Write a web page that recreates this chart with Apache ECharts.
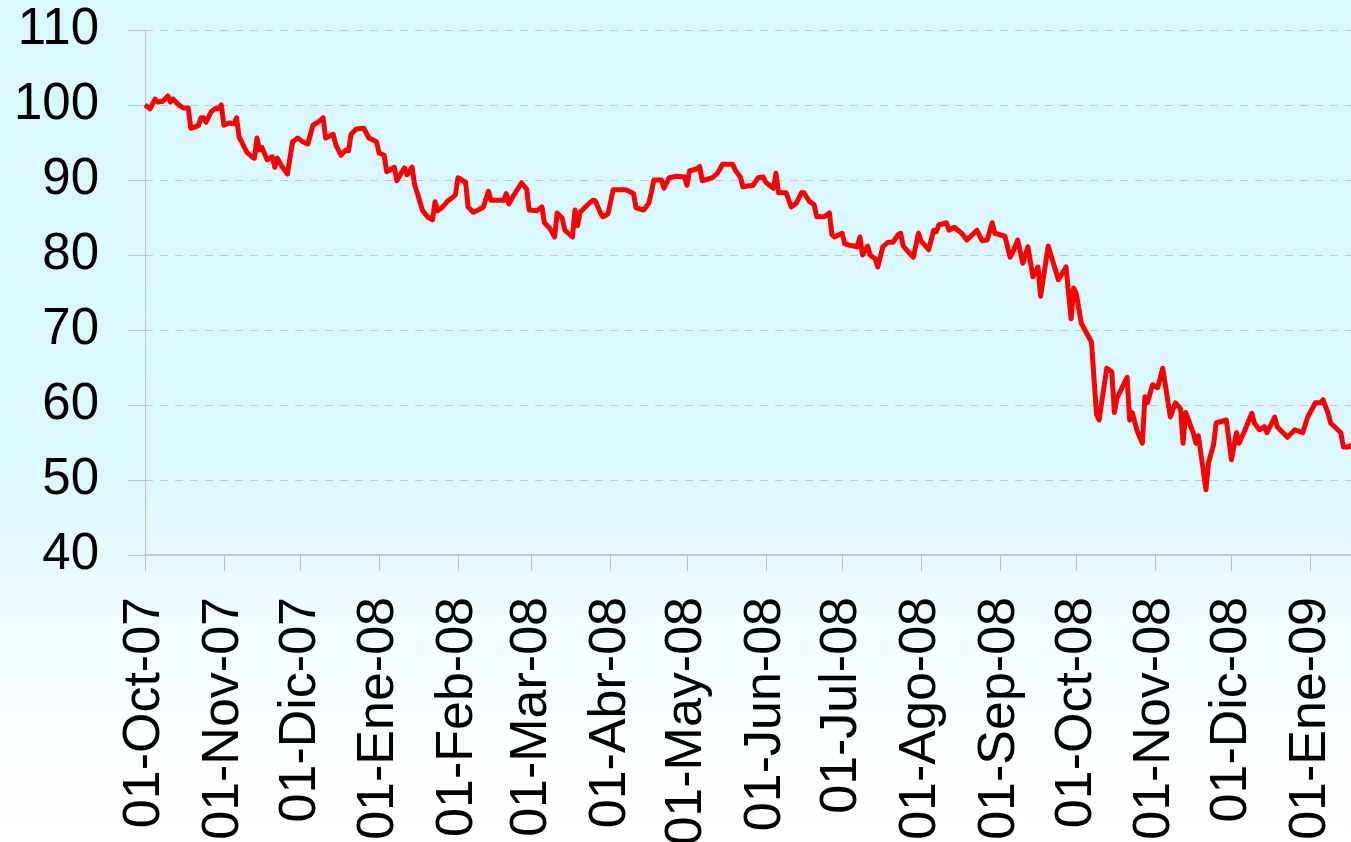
<!DOCTYPE html>
<html>
<head>
<meta charset="utf-8">
<script src="https://cdn.jsdelivr.net/npm/echarts@6/dist/echarts.min.js"></script>
<style>
  html, body { margin: 0; padding: 0; }
  body {
    background: linear-gradient(to bottom, #d9f8fe 0%, #daf8fe 54%, #e6f9fe 66%, #f2fcff 76%, #fbfeff 88%, #ffffff 100%);
  }
  #chart { width: 1351px; height: 842px; }
</style>
</head>
<body>
<div id="chart"></div>
<script>
// fechas y valores
const dates = [
  "2007-10-01", "2007-10-03", "2007-10-05", "2007-10-06", "2007-10-08", "2007-10-10", "2007-10-11", "2007-10-12",
  "2007-10-14", "2007-10-16", "2007-10-18", "2007-10-19", "2007-10-21", "2007-10-22", "2007-10-23", "2007-10-24",
  "2007-10-25", "2007-10-27", "2007-10-29", "2007-10-30", "2007-10-31",
  "2007-11-01", "2007-11-03", "2007-11-05", "2007-11-06", "2007-11-07", "2007-11-08", "2007-11-10", "2007-11-12",
  "2007-11-13", "2007-11-14", "2007-11-15", "2007-11-16", "2007-11-18", "2007-11-20", "2007-11-21", "2007-11-22",
  "2007-11-24", "2007-11-26", "2007-11-28", "2007-11-30",
  "2007-12-02", "2007-12-04", "2007-12-06", "2007-12-08", "2007-12-10", "2007-12-11", "2007-12-14", "2007-12-15",
  "2007-12-17", "2007-12-19", "2007-12-20", "2007-12-21", "2007-12-23", "2007-12-26", "2007-12-28", "2007-12-31",
  "2008-01-01", "2008-01-03", "2008-01-04", "2008-01-07", "2008-01-08", "2008-01-10", "2008-01-11", "2008-01-12",
  "2008-01-14", "2008-01-15", "2008-01-16", "2008-01-18", "2008-01-20", "2008-01-22", "2008-01-23", "2008-01-24",
  "2008-01-26", "2008-01-28", "2008-01-30", "2008-01-31",
  "2008-02-01", "2008-02-04", "2008-02-05", "2008-02-07", "2008-02-09", "2008-02-11", "2008-02-13", "2008-02-14",
  "2008-02-16", "2008-02-19", "2008-02-20", "2008-02-21", "2008-02-23", "2008-02-26", "2008-02-28", "2008-02-29",
  "2008-03-03", "2008-03-05", "2008-03-06", "2008-03-08", "2008-03-10", "2008-03-11", "2008-03-13", "2008-03-14",
  "2008-03-17", "2008-03-18", "2008-03-19", "2008-03-20", "2008-03-23", "2008-03-25", "2008-03-26", "2008-03-28",
  "2008-03-29", "2008-03-31",
  "2008-04-02", "2008-04-07", "2008-04-10", "2008-04-11", "2008-04-14", "2008-04-16", "2008-04-17", "2008-04-18",
  "2008-04-21", "2008-04-22", "2008-04-24", "2008-04-27", "2008-04-30",
  "2008-05-01", "2008-05-02", "2008-05-05", "2008-05-06", "2008-05-07", "2008-05-09", "2008-05-11", "2008-05-13",
  "2008-05-15", "2008-05-19", "2008-05-20", "2008-05-22", "2008-05-23", "2008-05-27", "2008-05-29", "2008-05-31",
  "2008-06-01", "2008-06-04", "2008-06-05", "2008-06-06", "2008-06-09", "2008-06-11", "2008-06-13", "2008-06-15",
  "2008-06-16", "2008-06-18", "2008-06-20", "2008-06-21", "2008-06-24", "2008-06-26", "2008-06-27", "2008-06-28",
  "2008-07-01", "2008-07-02", "2008-07-04", "2008-07-07", "2008-07-08", "2008-07-09", "2008-07-11", "2008-07-12",
  "2008-07-14", "2008-07-15", "2008-07-17", "2008-07-19", "2008-07-21", "2008-07-23", "2008-07-24", "2008-07-25",
  "2008-07-26", "2008-07-29", "2008-07-31",
  "2008-08-01", "2008-08-04", "2008-08-06", "2008-08-07", "2008-08-08", "2008-08-11", "2008-08-12", "2008-08-14",
  "2008-08-17", "2008-08-19", "2008-08-23", "2008-08-25", "2008-08-27", "2008-08-29", "2008-08-30",
  "2008-09-03", "2008-09-05", "2008-09-06", "2008-09-08", "2008-09-10", "2008-09-12", "2008-09-14", "2008-09-16",
  "2008-09-17", "2008-09-20", "2008-09-24", "2008-09-27", "2008-09-29", "2008-09-30",
  "2008-10-01", "2008-10-03", "2008-10-07", "2008-10-09", "2008-10-10", "2008-10-13", "2008-10-15", "2008-10-16",
  "2008-10-17", "2008-10-21", "2008-10-22", "2008-10-23", "2008-10-25", "2008-10-27", "2008-10-28", "2008-10-29",
  "2008-10-31",
  "2008-11-02", "2008-11-04", "2008-11-07", "2008-11-09", "2008-11-11", "2008-11-12", "2008-11-13", "2008-11-16",
  "2008-11-17", "2008-11-18", "2008-11-21", "2008-11-22", "2008-11-24", "2008-11-25", "2008-11-29",
  "2008-12-01", "2008-12-03", "2008-12-04", "2008-12-06", "2008-12-09", "2008-12-10", "2008-12-12", "2008-12-14",
  "2008-12-15", "2008-12-18", "2008-12-19", "2008-12-23", "2008-12-26", "2008-12-29", "2008-12-31",
  "2009-01-03", "2009-01-05", "2009-01-06", "2009-01-08", "2009-01-09", "2009-01-13", "2009-01-14", "2009-01-16",
  "2009-01-17", "2009-01-20"
];

const values = [
  100.0, 99.5, 100.8, 100.4, 100.5, 101.2, 100.4, 100.8,
  100.1, 99.6, 99.6, 96.9, 97.1, 97.3, 98.3, 98.3,
  97.7, 99.1, 99.6, 99.5, 100.0,
  97.3, 97.6, 97.5, 98.3, 95.7, 95.1, 93.7, 93.1,
  92.9, 95.6, 94.0, 94.3, 92.7, 93.1, 91.7, 92.9,
  91.7, 90.8, 95.1, 95.6,
  95.1, 94.8, 97.3, 97.7, 98.3, 95.6, 96.1, 94.7,
  93.3, 94.0, 93.9, 96.1, 96.8, 96.9, 95.6, 95.1,
  93.6, 93.3, 91.1, 91.7, 89.9, 91.1, 91.6, 90.7,
  91.7, 89.3, 88.3, 86.0, 85.1, 84.7, 87.1, 85.9,
  86.4, 87.2, 87.7, 88.0,
  90.3, 89.7, 86.4, 85.7, 86.0, 86.4, 88.5, 87.3,
  87.3, 87.3, 88.2, 86.8, 88.0, 89.6, 88.8, 86.0,
  85.9, 86.4, 84.3, 83.6, 82.4, 85.6, 84.9, 83.3,
  82.4, 86.0, 83.9, 85.7, 86.7, 87.3, 87.2, 85.6,
  85.1, 85.5,
  88.7, 88.7, 88.2, 86.3, 86.0, 86.9, 88.3, 90.0,
  90.0, 88.9, 90.3, 90.5, 90.4,
  89.3, 91.2, 91.5, 91.8, 89.9, 90.1, 90.3, 90.9,
  92.1, 92.1, 91.3, 90.4, 89.1, 89.3, 90.3, 90.4,
  89.7, 88.9, 90.9, 88.3, 88.3, 86.4, 86.9, 88.3,
  88.3, 87.2, 86.7, 85.1, 85.1, 85.6, 82.7, 82.4,
  82.9, 81.5, 81.3, 81.1, 82.4, 80.0, 81.2, 80.0,
  79.5, 78.4, 81.1, 81.7, 81.7, 82.7, 82.9, 81.2,
  80.8, 79.7, 82.9,
  81.9, 80.7, 83.3, 83.1, 84.0, 84.3, 83.3, 83.7,
  82.9, 82.0, 83.3, 81.9, 82.0, 84.3, 82.9,
  82.5, 79.7, 80.3, 82.0, 78.9, 81.1, 77.1, 78.4,
  74.5, 81.2, 76.7, 78.4, 71.5, 75.6,
  74.9, 70.9, 68.4, 58.7, 58.0, 64.9, 64.4, 59.0,
  60.9, 63.7, 58.0, 59.0, 56.5, 54.9, 61.1, 60.3,
  62.7,
  62.3, 64.9, 58.4, 60.3, 59.5, 54.9, 59.0, 56.3,
  54.9, 55.9, 48.7, 52.3, 54.7, 57.6, 58.0,
  52.7, 56.3, 54.9, 56.4, 58.9, 57.6, 56.7, 57.1,
  56.3, 58.4, 57.1, 55.7, 56.7, 56.3, 58.4,
  60.3, 60.3, 60.7, 58.9, 57.6, 56.3, 54.4, 54.4,
  54.6, 54.2
];

const monthStarts = [
  "2007-10-01", "2007-11-01", "2007-12-01", "2008-01-01", "2008-02-01", "2008-03-01", "2008-04-01", "2008-05-01",
  "2008-06-01", "2008-07-01", "2008-08-01", "2008-09-01", "2008-10-01", "2008-11-01", "2008-12-01", "2009-01-01"
];
const monthLabels = [
  "01-Oct-07", "01-Nov-07", "01-Dic-07", "01-Ene-08", "01-Feb-08", "01-Mar-08", "01-Abr-08", "01-May-08",
  "01-Jun-08", "01-Jul-08", "01-Ago-08", "01-Sep-08", "01-Oct-08", "01-Nov-08", "01-Dic-08", "01-Ene-09"
];
const xMin = "2007-10-01";
const xMax = "2009-01-17";

// dias en UTC para que no haya saltos por cambio de hora
const toTime = (s) => {
  const p = s.split("-");
  return Date.UTC(+p[0], +p[1] - 1, +p[2]);
};
const tickTimes = monthStarts.map(toTime);

const chart = echarts.init(document.getElementById("chart"));
const font = "Arial, 'Liberation Sans', sans-serif";

chart.setOption({
  backgroundColor: "transparent",
  animation: false,
  grid: {
    left: 145,
    top: 30,
    right: 0,
    bottom: 287,
    containLabel: false,
    outerBoundsMode: "none"
  },
  xAxis: {
    type: "value",
    min: toTime(xMin),
    max: toTime(xMax),
    axisLine: { show: true, onZero: false, lineStyle: { color: "#c8c8c8", width: 2 } },
    axisTick: {
      show: true,
      length: 16,
      customValues: tickTimes,
      lineStyle: { color: "#c0c0c0", width: 1 }
    },
    axisLabel: {
      customValues: tickTimes,
      rotate: 90,
      margin: 42,
      fontSize: 52,
      fontFamily: font,
      color: "#000",
      formatter: (val) => {
        const i = tickTimes.indexOf(val);
        return i >= 0 ? monthLabels[i] : "";
      }
    },
    splitLine: { show: false },
    minorTick: { show: false }
  },
  yAxis: {
    type: "value",
    min: 40,
    max: 110,
    interval: 10,
    axisLine: { show: true, lineStyle: { color: "#c0c0c0", width: 1 } },
    axisTick: { show: true, length: 17, lineStyle: { color: "#c0c0c0" } },
    axisLabel: {
      margin: 46,
      fontSize: 51,
      fontFamily: font,
      color: "#000"
    },
    splitLine: {
      show: true,
      lineStyle: { color: "#c8c8c8", type: [8, 7], width: 1 }
    }
  },
  series: [
    {
      type: "line",
      data: dates.map((d, i) => [toTime(d), values[i]]),
      showSymbol: false,
      smooth: false,
      lineStyle: { color: "#ff0000", width: 5, join: "round" },
      clip: true
    }
  ]
});
</script>
</body>
</html>
